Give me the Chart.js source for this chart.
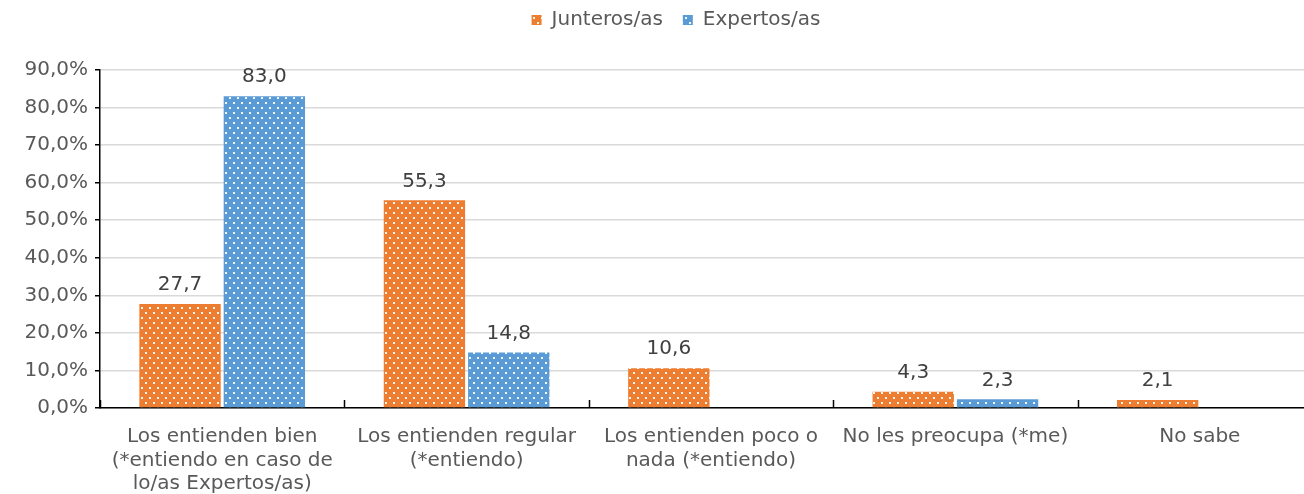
<!DOCTYPE html>
<html>
<head>
<meta charset="utf-8">
<script src="https://cdn.jsdelivr.net/npm/chart.js@4.4.1/dist/chart.umd.min.js"></script>
<style>
  html, body { margin: 0; padding: 0; background: #fff; overflow: hidden; }
  #wrap { position: relative; width: 1324px; height: 494px; }
</style>
</head>
<body>
<div id="wrap"><canvas id="chart"></canvas></div>
<script>
// Datos del gráfico
const categorias = [
    ['Los entienden bien', '(*entiendo en caso de', 'lo/as Expertos/as)'],
    ['Los entienden regular', '(*entiendo)'],
    ['Los entienden poco o', 'nada (*entiendo)'],
    'No les preocupa (*me)',
    'No sabe'
];
const junteros = [27.7, 55.3, 10.6, 4.3, 2.1];
const expertos = [83.0, 14.8, null, 2.3, null];
const serieNombres = ['Junteros/as', 'Expertos/as'];
const yMax = 90;
const yPaso = 10;

const NARANJA = '#ED7D31';
const AZUL = '#5B9BD5';
const TEXTO = '#595959';
const FUENTE = 'DejaVu Sans';

// Relleno punteado tipo Excel
function crearPatron(color) {
    const c = document.createElement('canvas');
    c.width = 8; c.height = 10;
    const g = c.getContext('2d');
    g.fillStyle = color;
    g.fillRect(0, 0, 8, 10);
    g.fillStyle = 'rgba(255,255,255,0.92)';
    g.fillRect(1, 2, 2, 2);
    g.fillRect(5, 7, 2, 2);
    return g.createPattern(c, 'repeat');
}

const formato = v => v.toFixed(1).replace('.', ',');

// Etiquetas de valores encima de las barras
const etiquetasPlugin = {
    id: 'etiquetas',
    afterDatasetsDraw(chart) {
        const ctx = chart.ctx;
        ctx.save();
        ctx.font = '20px "' + FUENTE + '"';
        ctx.fillStyle = '#404040';
        ctx.textAlign = 'center';
        ctx.textBaseline = 'middle';
        chart.data.datasets.forEach((ds, i) => {
            chart.getDatasetMeta(i).data.forEach((bar, j) => {
                const v = ds.data[j];
                if (v === null || v === undefined) return;
                ctx.fillText(formato(v), bar.x, bar.y - 19);
            });
        });
        ctx.restore();
    }
};

// Marcas de división entre categorías (hacia dentro)
const marcasPlugin = {
    id: 'marcas',
    afterDraw(chart) {
        const x = chart.scales.x;
        const ctx = chart.ctx;
        const ancho = (x.right - x.left) / categorias.length;
        ctx.save();
        ctx.strokeStyle = '#000';
        ctx.lineWidth = 1.5;
        for (let i = 0; i <= categorias.length; i++) {
            const px = Math.round(x.left + ancho * i) + 0.5;
            ctx.beginPath();
            ctx.moveTo(px, x.top);
            ctx.lineTo(px, x.top - 8);
            ctx.stroke();
        }
        ctx.restore();
    }
};

// Ajuste de leyenda
const leyendaPlugin = {
    id: 'leyendaAjuste',
    beforeInit(chart) {
        const fitOrig = chart.legend.fit;
        chart.legend.fit = function () {
            fitOrig.bind(chart.legend)();
            this.height = 70;
        };
    },
    afterLayout(chart) {
        chart.legend.left += 15;
        chart.legend.right += 15;
        chart.legend.top -= 10;
    }
};

new Chart(document.getElementById('chart').getContext('2d'), {
    type: 'bar',
    data: {
        labels: categorias,
        datasets: [
            {
                label: serieNombres[0],
                data: junteros,
                backgroundColor: crearPatron(NARANJA),
                borderWidth: 0
            },
            {
                label: serieNombres[1],
                data: expertos,
                backgroundColor: crearPatron(AZUL),
                borderWidth: 0
            }
        ]
    },
    options: {
        responsive: true,
        maintainAspectRatio: false,
        animation: false,
        layout: { padding: { left: 0, right: 2, top: 0, bottom: 0 } },
        datasets: {
            bar: { categoryPercentage: 0.69, barPercentage: 0.965 }
        },
        scales: {
            x: {
                grid: { display: false, drawTicks: false },
                border: { display: true, color: '#000', width: 1.5 },
                ticks: {
                    color: TEXTO,
                    font: { family: FUENTE, size: 20, lineHeight: 1.18 },
                    padding: 17,
                    maxRotation: 0,
                    autoSkip: false
                },
                afterFit: s => { s.height = 86; }
            },
            y: {
                min: 0,
                max: yMax,
                ticks: {
                    stepSize: yPaso,
                    color: TEXTO,
                    font: { family: FUENTE, size: 20 },
                    padding: 7,
                    callback: v => formato(v) + '%'
                },
                grid: { color: '#d9d9d9', lineWidth: 1.5, tickColor: '#000', tickLength: 5 },
                border: { display: true, color: '#000', width: 1.5 },
                afterFit: s => { s.width = 100; }
            }
        },
        plugins: {
            legend: {
                position: 'top',
                labels: {
                    boxWidth: 10,
                    boxHeight: 10,
                    padding: 20,
                    color: TEXTO,
                    font: { family: FUENTE, size: 20 }
                }
            },
            tooltip: { enabled: false }
        }
    },
    plugins: [etiquetasPlugin, marcasPlugin, leyendaPlugin]
});
</script>
</body>
</html>
